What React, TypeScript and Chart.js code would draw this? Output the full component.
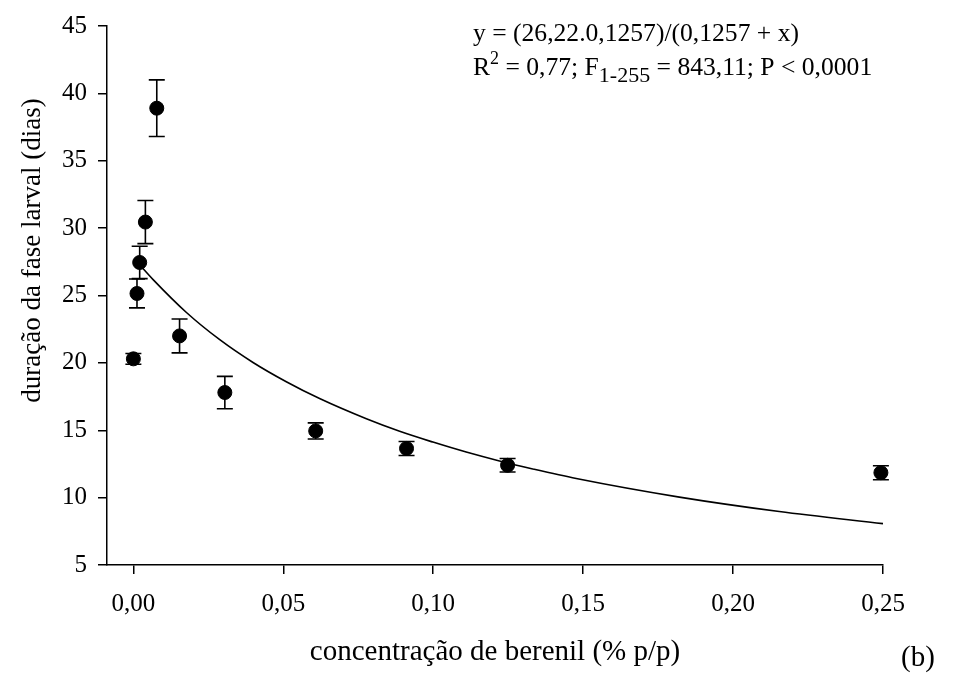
import React, { useEffect, useRef } from 'react';
import { Chart, registerables } from 'chart.js';

Chart.register(...registerables);

// Observed data (concentration % p/p, mean larval duration in days, error bar half-length)
const concentrations = [0, 0.0012, 0.0021, 0.004, 0.0078, 0.0154, 0.0305, 0.0608, 0.0911, 0.1248, 0.2493];
const meanDays = [20.3, 25.15, 27.45, 30.45, 38.9, 22.0, 17.8, 14.95, 13.65, 12.4, 11.85];
const errDays = [0.4, 1.07, 1.2, 1.6, 2.1, 1.26, 1.2, 0.6, 0.52, 0.5, 0.52];

// Fitted curve
const curveX = [0.002, 0.0065, 0.0177, 0.0288, 0.0399, 0.051, 0.0621, 0.0777, 0.0888, 0.0999, 0.111, 0.1221, 0.1332, 0.1477, 0.1821, 0.2154, 0.25];
const curveY = [27.3, 26.2, 23.74, 21.72, 20.03, 18.6, 17.35, 15.85, 14.92, 14.12, 13.38, 12.72, 12.13, 11.42, 10.04, 8.97, 8.07];

const xTicks = [0, 0.05, 0.1, 0.15, 0.2, 0.25];
const yTicks = [5, 10, 15, 20, 25, 30, 35, 40, 45];

const xTitle = 'concentração de berenil (% p/p)';
const yTitle = 'duração da fase larval (dias)';
const eqLine1 = 'y = (26,22.0,1257)/(0,1257 + x)';
const panelLabel = '(b)';

const FONT = '"Liberation Serif", "Times New Roman", serif';

const errorBarPlugin = {
  id: 'errorBars',
  afterDatasetsDraw(chart: any) {
    const ctx = chart.ctx;
    const xs = chart.scales.x;
    const ys = chart.scales.y;
    ctx.save();
    ctx.strokeStyle = '#000';
    ctx.lineWidth = 1.6;
    for (let i = 0; i < concentrations.length; i++) {
      const px = xs.getPixelForValue(concentrations[i]);
      const top = ys.getPixelForValue(meanDays[i] + errDays[i]);
      const bot = ys.getPixelForValue(meanDays[i] - errDays[i]);
      ctx.beginPath();
      ctx.moveTo(px, top);
      ctx.lineTo(px, bot);
      ctx.moveTo(px - 8, top);
      ctx.lineTo(px + 8, top);
      ctx.moveTo(px - 8, bot);
      ctx.lineTo(px + 8, bot);
      ctx.stroke();
    }
    ctx.restore();
  },
};

const textPlugin = {
  id: 'texts',
  afterDraw(chart: any) {
    const ctx = chart.ctx;
    const area = chart.chartArea;
    ctx.save();
    ctx.fillStyle = '#000';
    ctx.textBaseline = 'alphabetic';

    // Equation
    const eqSize = 25.6;
    ctx.font = `${eqSize}px ${FONT}`;
    ctx.textAlign = 'left';
    let x = 473;
    ctx.fillText(eqLine1, x, 41);
    const y2 = 75;
    ctx.fillText('R', x, y2);
    x += ctx.measureText('R').width;
    ctx.font = `18px ${FONT}`;
    ctx.fillText('2', x, y2 - 11);
    x += ctx.measureText('2').width;
    ctx.font = `${eqSize}px ${FONT}`;
    const p1 = ' = 0,77; F';
    ctx.fillText(p1, x, y2);
    x += ctx.measureText(p1).width;
    ctx.font = `22px ${FONT}`;
    ctx.fillText('1-255', x, y2 + 7);
    x += ctx.measureText('1-255').width;
    ctx.font = `${eqSize}px ${FONT}`;
    ctx.fillText(' = 843,11; P < 0,0001', x, y2);

    // X title
    ctx.font = `29px ${FONT}`;
    ctx.textAlign = 'center';
    ctx.fillText(xTitle, (area.left + area.right) / 2, 660);

    // Panel label
    ctx.textAlign = 'left';
    ctx.fillText(panelLabel, 901, 666);

    // Y title
    ctx.save();
    ctx.translate(40, (area.top + area.bottom) / 2 - 45);
    ctx.rotate(-Math.PI / 2);
    ctx.textAlign = 'center';
    ctx.font = `27px ${FONT}`;
    ctx.fillText(yTitle, 0, 0);
    ctx.restore();

    ctx.restore();
  },
};

export default function App() {
  const ref = useRef<HTMLCanvasElement | null>(null);

  useEffect(() => {
    if (!ref.current) return;
    Chart.defaults.color = '#000';
    const chart = new Chart(ref.current, {
      type: 'scatter',
      data: {
        datasets: [
          {
            type: 'line',
            data: curveX.map((v, i) => ({ x: v, y: curveY[i] })),
            borderColor: '#000',
            borderWidth: 1.6,
            pointRadius: 0,
            cubicInterpolationMode: 'monotone',
            fill: false,
            clip: false,
          } as any,
          {
            type: 'scatter',
            data: concentrations.map((v, i) => ({ x: v, y: meanDays[i] })),
            backgroundColor: '#000',
            borderColor: '#000',
            pointRadius: 7,
            pointHoverRadius: 7,
            clip: false,
          } as any,
        ],
      },
      options: {
        responsive: false,
        animation: false,
        events: [],
        layout: { padding: { top: 20, right: 83, left: 0, bottom: 0 } },
        plugins: { legend: { display: false }, tooltip: { enabled: false } },
        scales: {
          x: {
            type: 'linear',
            min: -0.0088,
            max: 0.25,
            afterBuildTicks: (s: any) => {
              s.ticks = xTicks.map((v) => ({ value: v }));
            },
            afterFit: (s: any) => {
              s.height = 117;
            },
            grid: { drawOnChartArea: false, drawTicks: true, tickLength: 9, color: '#000', lineWidth: 1.5 },
            border: { display: true, color: '#000', width: 1.5 },
            ticks: {
              font: { family: FONT, size: 25 },
              color: '#000',
              padding: 15,
              maxRotation: 0,
              callback: (v: any) => Number(v).toFixed(2).replace('.', ','),
            },
          },
          y: {
            type: 'linear',
            min: 5,
            max: 45,
            afterBuildTicks: (s: any) => {
              s.ticks = yTicks.map((v) => ({ value: v }));
            },
            afterFit: (s: any) => {
              s.width = 107;
            },
            grid: { drawOnChartArea: false, drawTicks: true, tickLength: 9, color: '#000', lineWidth: 1.5 },
            border: { display: true, color: '#000', width: 1.5 },
            ticks: {
              font: { family: FONT, size: 25 },
              color: '#000',
              padding: 11,
              callback: (v: any) => String(v),
            },
          },
        },
      },
      plugins: [errorBarPlugin, textPlugin],
    });
    return () => chart.destroy();
  }, []);

  return (
    <div style={{ position: 'absolute', left: 0, top: 0, width: 966, height: 682, background: '#fff' }}>
      <canvas ref={ref} width={966} height={682} style={{ display: 'block' }} />
    </div>
  );
}
